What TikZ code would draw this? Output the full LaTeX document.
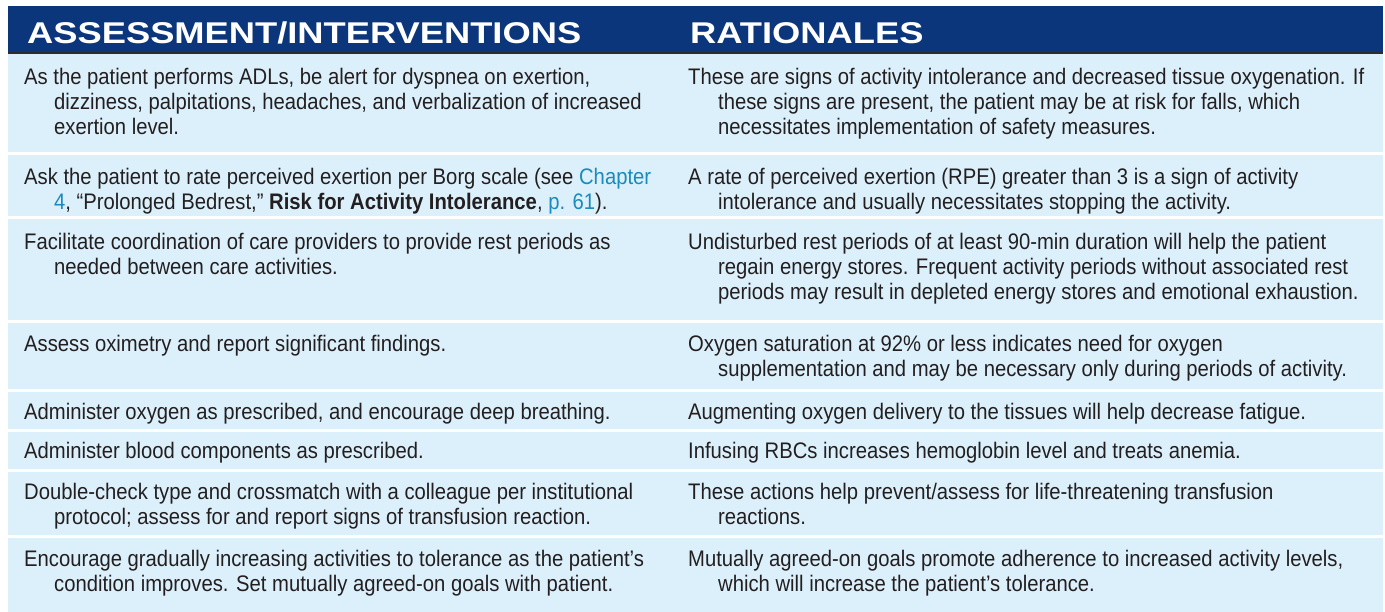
\documentclass[tikz,border=0pt]{standalone}
\usepackage{fontspec}
\setmainfont{Liberation Sans}[FakeStretch=0.9]
\newfontfamily\headfont{Liberation Sans}[FakeStretch=1.21]
\definecolor{hdrblue}{RGB}{11,54,124}
\definecolor{rowblue}{RGB}{220,240,251}
\definecolor{txtcol}{RGB}{35,31,32}
\definecolor{lnk}{RGB}{27,138,190}
\definecolor{rulegray}{RGB}{45,45,45}
\newcommand{\lk}[1]{\textcolor{lnk}{#1}}
\newcommand{\fst}{\rule{0pt}{20pt}}
\newcommand{\ind}{\hspace*{30pt}}
\begin{document}
\begin{tikzpicture}[x=1pt,y=-1pt,
  rowbg/.style={fill=rowblue},
  cell/.style={anchor=north west,inner sep=0pt,align=left,text=txtcol,font=\fontsize{22.5}{25}\selectfont},
  head/.style={anchor=base west,inner sep=0pt,text=white,font=\headfont\bfseries\fontsize{30}{30}\selectfont}]
\useasboundingbox (0,0) rectangle (1385,612);
\fill[white] (0,0) rectangle (1385,612);
\fill[hdrblue] (8,6) rectangle (1383,52);
\fill[rulegray] (8,52) rectangle (1383,54.5);
\node[head] (hA) at (27,44) {ASSESSMENT/INTERVENTIONS};
\node[head] (hR) at (690,44) {RATIONALES};
% rows
\fill[rowbg] (8,54.5) rectangle (1383,152);
\fill[rowbg] (8,155) rectangle (1383,216);
\fill[rowbg] (8,219) rectangle (1383,320);
\fill[rowbg] (8,323) rectangle (1383,389);
\fill[rowbg] (8,392) rectangle (1383,429);
\fill[rowbg] (8,432) rectangle (1383,469);
\fill[rowbg] (8,472) rectangle (1383,535);
\fill[rowbg] (8,538) rectangle (1383,612);
% row 1
\node[cell] (a1) at (24,64) {\fst As the patient performs ADLs, be alert for dyspnea on exertion,\\\ind dizziness, palpitations, headaches, and verbalization of increased\\\ind exertion level.};
\node[cell] (b1) at (688,64) {\fst These are signs of activity intolerance and decreased tissue oxygenation. If\\\ind these signs are present, the patient may be at risk for falls, which\\\ind necessitates implementation of safety measures.};
% row 2
\node[cell] (a2) at (24,164) {\fst Ask the patient to rate perceived exertion per Borg scale (see \lk{Chapter}\\\ind\lk{4}, “Prolonged Bedrest,” \textbf{Risk for Activity Intolerance}, \lk{p. 61}).};
\node[cell] (b2) at (688,164) {\fst A rate of perceived exertion (RPE) greater than 3 is a sign of activity\\\ind intolerance and usually necessitates stopping the activity.};
% row 3
\node[cell] (a3) at (24,229) {\fst Facilitate coordination of care providers to provide rest periods as\\\ind needed between care activities.};
\node[cell] (b3) at (688,229) {\fst Undisturbed rest periods of at least 90-min duration will help the patient\\\ind regain energy stores. Frequent activity periods without associated rest\\\ind periods may result in depleted energy stores and emotional exhaustion.};
% row 4
\node[cell] (a4) at (24,331) {\fst Assess oximetry and report significant findings.};
\node[cell] (b4) at (688,331) {\fst Oxygen saturation at 92\% or less indicates need for oxygen\\\ind supplementation and may be necessary only during periods of activity.};
% row 5
\node[cell] (a5) at (24,399) {\fst Administer oxygen as prescribed, and encourage deep breathing.};
\node[cell] (b5) at (688,399) {\fst Augmenting oxygen delivery to the tissues will help decrease fatigue.};
% row 6
\node[cell] (a6) at (24,438) {\fst Administer blood components as prescribed.};
\node[cell] (b6) at (688,438) {\fst Infusing RBCs increases hemoglobin level and treats anemia.};
% row 7
\node[cell] (a7) at (24,479) {\fst Double-check type and crossmatch with a colleague per institutional\\\ind protocol; assess for and report signs of transfusion reaction.};
\node[cell] (b7) at (688,479) {\fst These actions help prevent/assess for life-threatening transfusion\\\ind reactions.};
% row 8
\node[cell] (a8) at (24,546) {\fst Encourage gradually increasing activities to tolerance as the patient’s\\\ind condition improves. Set mutually agreed-on goals with patient.};
\node[cell] (b8) at (688,546) {\fst Mutually agreed-on goals promote adherence to increased activity levels,\\\ind which will increase the patient’s tolerance.};
\end{tikzpicture}
\end{document}
